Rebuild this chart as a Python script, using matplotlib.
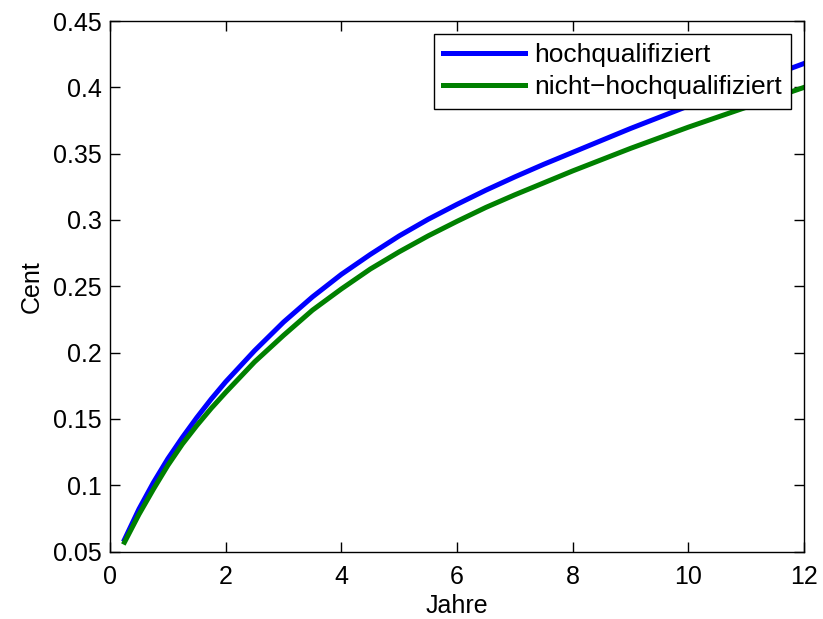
import numpy as np
import matplotlib
matplotlib.use("Agg")
import matplotlib.pyplot as plt

plt.rcParams['font.family'] = ['Liberation Sans', 'DejaVu Sans']

# values
jahre = [0.25, 0.5, 0.75, 1, 1.25, 1.5, 1.75, 2, 2.5, 3, 3.5, 4, 4.5, 5, 5.5,
         6, 6.5, 7, 7.5, 8, 9, 10, 11, 12]
hoch = [0.059, 0.082, 0.102, 0.120, 0.136, 0.151, 0.165, 0.178, 0.2015, 0.223,
        0.242, 0.259, 0.274, 0.288, 0.3005, 0.3118, 0.3225, 0.3325, 0.342, 0.351,
        0.369, 0.386, 0.402, 0.418]
nicht_hoch = [0.057, 0.078, 0.097, 0.115, 0.131, 0.145, 0.158, 0.170, 0.193, 0.213,
              0.232, 0.248, 0.263, 0.276, 0.288, 0.299, 0.3095, 0.319, 0.328, 0.337,
              0.354, 0.370, 0.385, 0.400]

xticks = [0, 2, 4, 6, 8, 10, 12]
yticks = [0.05, 0.1, 0.15, 0.2, 0.25, 0.3, 0.35, 0.4, 0.45]
ytick_labels = ['0.05', '0.1', '0.15', '0.2', '0.25', '0.3', '0.35', '0.4', '0.45']

fig = plt.figure(figsize=(8.23, 6.19), dpi=100)
ax = fig.add_axes([0.1337, 0.109, 0.977 - 0.1337, 0.966 - 0.109])

ax.plot(jahre, hoch, color=(0, 0, 1), lw=3.6, label='hochqualifiziert')
ax.plot(jahre, nicht_hoch, color=(0, 0.5, 0), lw=3.6, label='nicht\u2212hochqualifiziert')

ax.set_xlim(0, 12)
ax.set_ylim(0.05, 0.45)
ax.set_xticks(xticks)
ax.set_yticks(yticks)
ax.set_yticklabels(ytick_labels)
ax.tick_params(direction='in', length=7, width=1, top=True, right=True,
               labelsize=18)
ax.tick_params(axis='x', pad=9.5)
ax.tick_params(axis='y', pad=6)
for s in ax.spines.values():
    s.set_linewidth(1)

ax.set_xlabel('Jahre', fontsize=18, labelpad=4)
ax.set_ylabel('Cent', fontsize=18, labelpad=6.5)

leg = ax.legend(loc='upper right', fontsize=19, fancybox=False, framealpha=1,
                edgecolor='black', borderaxespad=0.5, handlelength=3.1,
                handletextpad=0.34, borderpad=0.35, labelspacing=0.3)
leg.get_frame().set_linewidth(1)

fig.savefig('out.png', dpi=100)
